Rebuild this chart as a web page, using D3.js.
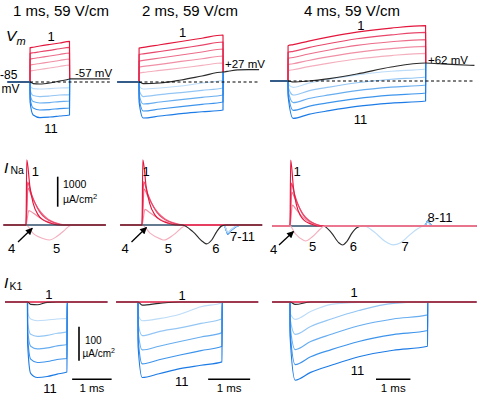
<!DOCTYPE html>
<html><head><meta charset="utf-8">
<script src="https://cdn.jsdelivr.net/npm/d3@7"></script>
<style>
body{margin:0;background:#fff}
svg{display:block}
text{font-family:"Liberation Sans",Arial,Helvetica,sans-serif;fill:#000}
</style>
</head><body>
<svg id="c" width="478" height="405"></svg>
<script>
// ================= DATA =================
const titles = ["1 ms, 59 V/cm", "2 ms, 59 V/cm", "4 ms, 59 V/cm"];
const traceIds = ["1","2","3","4","5","6","7","8","9","10","11"];
const timeWindow = [[-0.57, 2.02], [-0.52, 2.86], [-0.52, 5.42]];   // ms
const shockDuration = [1, 2, 4];                                     // ms
const restVm = -85;                                                  // mV
const postVmLabels = ["-57 mV", "+27 mV", "+62 mV"];

// ---- Vm (mV) during the shock, per trace 1..11 ----
const vmTimes1 = [0.002, 0.08, 0.25, 0.5, 0.75, 1.0];
const vmTraces1 = [
  [224, 228, 239, 253, 266, 280],
  [173, 178, 187, 200, 214, 226],
  [122, 127, 136, 149, 163, 176],
  [68, 73, 82, 95, 109, 122],
  [14, 19, 28, 41, 55, 68],
  [-85, -99, -103, -94, -76, -58],
  [-121, -144, -148, -144, -139, -135],
  [-157, -207, -216, -211, -202, -198],
  [-193, -261, -274, -270, -261, -256],
  [-229, -319, -337, -333, -324, -319],
  [-265, -382, -405, -400, -391, -382]];
const vmAfter1 = [[1.003, -57], [1.3, -57], [2.02, -57]];

const vmTimes2 = [0.002, 0.1, 0.5, 1.0, 1.5, 2.0];
const vmTraces2 = [
  [221, 226, 250, 280, 309, 338],
  [163, 168, 190, 218, 247, 275],
  [104, 109, 131, 158, 185, 212],
  [50, 55, 74, 100, 124, 149],
  [-4, 1, 19, 41, 64, 86],
  [-85, -99, -94, -67, -31, 5],
  [-121, -148, -139, -121, -94, -67],
  [-157, -216, -198, -180, -160, -139],
  [-193, -283, -265, -244, -223, -202],
  [-229, -346, -328, -306, -286, -265],
  [-265, -409, -391, -369, -353, -337]];
const vmAfter2 = [[2.003, 5], [2.15, 14], [2.35, 24], [2.6, 27], [2.86, 27]];

const vmTimes3 = [0.002, 0.15, 0.6, 1.2, 2, 3, 4];
const vmTraces3 = [
  [233, 242, 274, 312, 355, 391, 413],
  [173, 182, 215, 252, 295, 330, 352],
  [119, 127, 158, 194, 235, 268, 288],
  [62, 70, 100, 134, 173, 206, 226],
  [8, 16, 44, 76, 113, 144, 163],
  [-85, -94, -85, -63, -22, 41, 77],
  [-112, -142, -104, -69, -30, 3, 23],
  [-139, -211, -174, -140, -101, -69, -49],
  [-166, -280, -243, -210, -172, -140, -121],
  [-193, -349, -313, -280, -243, -212, -193],
  [-220, -421, -385, -352, -314, -284, -265]];
const vmAfter3 = [[4.003, 77], [4.4, 70], [4.9, 62], [5.42, 55]];

// ---- INa (uA/cm2), [t ms, value] samples where it departs from 0 ----
const inaTraces1 = [
  [[0,0],[0.02,2170],[0.1,1270],[0.18,730],[0.31,330],[0.43,170],[0.6,70],[0.8,0]],
  [[0,0],[0.04,1430],[0.12,1100],[0.22,760],[0.35,430],[0.5,220],[0.7,80],[0.95,0]],
  [[0,0],[0.05,1230],[0.13,1000],[0.24,700],[0.38,420],[0.55,200],[0.75,70],[1.0,0]],
  [[0,0],[0.07,480],[0.18,400],[0.32,270],[0.5,140],[0.7,50],[0.9,0]],
  [[0,0],[0.18,-280],[0.45,-460],[0.6,-500],[0.77,-390],[0.98,-170],[1.1,-30],[1.2,0]],
  [], [], [], [], [], []];
const inaTraces2 = [
  [[0,0],[0.02,2170],[0.1,1270],[0.18,730],[0.31,330],[0.43,170],[0.6,70],[0.8,0]],
  [[0,0],[0.04,1450],[0.12,1100],[0.22,760],[0.35,430],[0.5,220],[0.7,80],[0.95,0]],
  [[0,0],[0.05,1200],[0.13,980],[0.24,690],[0.38,410],[0.55,200],[0.75,70],[1.0,0]],
  [[0,0],[0.07,520],[0.18,420],[0.32,280],[0.5,140],[0.7,50],[0.9,0]],
  [[0,0],[0.19,-270],[0.45,-470],[0.52,-500],[0.75,-330],[0.98,-60],[1.08,0]],
  [[0.95,0],[1.21,-220],[1.45,-560],[1.54,-630],[1.66,-500],[1.78,-220],[1.9,-30],[2.0,0]],
  [[1.95,0],[2.0,-120],[2.04,-250],[2.12,-150],[2.25,-30],[2.4,0]],
  [[1.95,0],[2.0,-130],[2.04,-265],[2.12,-160],[2.25,-35],[2.4,0]],
  [[1.95,0],[2.0,-140],[2.04,-280],[2.12,-170],[2.25,-40],[2.4,0]],
  [[1.95,0],[2.0,-150],[2.04,-295],[2.12,-180],[2.25,-45],[2.4,0]],
  [[1.95,0],[2.0,-160],[2.04,-310],[2.12,-190],[2.25,-50],[2.4,0]]];
const inaTraces3 = [
  [[0,0],[0.02,2200],[0.1,1280],[0.18,740],[0.31,330],[0.43,170],[0.6,70],[0.8,0]],
  [[0,0],[0.04,1430],[0.12,1100],[0.22,760],[0.35,430],[0.5,220],[0.7,80],[0.95,0]],
  [[0,0],[0.05,1130],[0.13,950],[0.24,680],[0.38,400],[0.55,190],[0.75,60],[1.0,0]],
  [[0,0],[0.07,700],[0.16,580],[0.3,380],[0.48,190],[0.68,60],[0.9,0]],
  [[0,0],[0.15,-250],[0.38,-470],[0.45,-500],[0.65,-360],[0.88,-100],[1.0,0]],
  [[0.97,0],[1.2,-220],[1.42,-560],[1.53,-633],[1.65,-520],[1.8,-240],[1.94,-60],[2.1,0]],
  [[2.15,0],[2.45,-200],[2.75,-500],[3.0,-630],[3.2,-570],[3.45,-330],[3.7,-100],[3.9,0]],
  [[3.9,0],[3.96,70],[4.0,150],[4.06,80],[4.14,0]],
  [[3.9,0],[3.96,75],[4.0,160],[4.06,85],[4.14,0]],
  [[3.9,0],[3.96,80],[4.0,165],[4.06,90],[4.14,0]],
  [[3.9,0],[3.96,85],[4.0,170],[4.06,95],[4.14,0]]];

// ---- IK1 (uA/cm2) during the shock, on the Vm time grids ----
const ik1Traces1 = [
  [0,0,0,0,0,0],[0,0,0,0,0,0],[0,0,0,0,0,0],[0,0,0,0,0,0],[0,0,0,0,0,0],
  [0, -7, -8, -1, 0, 0],
  [-30, -50, -55, -53, -50, -48],
  [-60, -95, -101, -98, -92, -88],
  [-80, -130, -138, -135, -129, -125],
  [-100, -168, -178, -175, -169, -166],
  [-120, -210, -222, -219, -212, -206]];
const ik1Traces2 = [
  [0,0,0,0,0,0],[0,0,0,0,0,0],[0,0,0,0,0,0],[0,0,0,0,0,0],[0,0,0,0,0,0],
  [0, -9, -4, 0, 0, 0],
  [-38, -55, -49, -36, -14, -2],
  [-61, -99, -87, -76, -63, -49],
  [-84, -141, -130, -116, -103, -90],
  [-107, -182, -170, -156, -143, -130],
  [-130, -222, -211, -196, -186, -176]];
const ik1Traces3 = [
  [0,0,0,0,0,0,0],[0,0,0,0,0,0,0],[0,0,0,0,0,0,0],[0,0,0,0,0,0,0],[0,0,0,0,0,0,0],
  [0, -7, 0, 0, 0, 0, 0],
  [-32, -51, -28, -7, -1, 0, 0],
  [-49, -95, -72, -50, -25, -4, 0],
  [-67, -140, -116, -95, -70, -50, -38],
  [-84, -184, -161, -140, -116, -96, -84],
  [-101, -230, -207, -186, -161, -142, -130]];

const inaScaleValue = 1000, ik1ScaleValue = 100, timeScaleValue = 1;

// ================= LAYOUT / STYLE =================
const vmTimes = [vmTimes1, vmTimes2, vmTimes3];
const vmTraces = [vmTraces1, vmTraces2, vmTraces3];
const vmAfter = [vmAfter1, vmAfter2, vmAfter3];
const inaTraces = [inaTraces1, inaTraces2, inaTraces3];
const ik1Traces = [ik1Traces1, ik1Traces2, ik1Traces3];

const colors = ["#e3163c","#e8466a","#ec6d8a","#f090a6","#f4afbe",
                "#2b2b2b",
                "#bcdcf8","#94c6f4","#67adf0","#3d94ec","#1c7be6"];
const K = [39.5, 42, 34.4];               // px per ms
const ORIGIN = {vm:[30,139,288], ina:[26,142,290], ik1:[27.5,138,290]};
const BASE = {vm:[82,82,81], ina:[225,225,226], ik1:[302,302,302]};
const LW = 1.15;

const svg = d3.select("#c");
const xs = (row, c) => d3.scaleLinear().domain([0, 1]).range([ORIGIN[row][c], ORIGIN[row][c] + K[c]]);
const yVm = c => d3.scaleLinear().domain([restVm, restVm + 90]).range([BASE.vm[c], BASE.vm[c] - 10]);
const yNa = c => d3.scaleLinear().domain([0, 1000]).range([BASE.ina[c], BASE.ina[c] - 30]);
const yK1 = c => d3.scaleLinear().domain([0, -100]).range([BASE.ik1[c], BASE.ik1[c] + 34]);
const mkLine = (x, y, curve) => d3.line().x(d => x(d[0])).y(d => y(d[1])).curve(curve || d3.curveMonotoneX);

function drawPath(g, pts, line, color, opts) {
  opts = opts || {};
  g.append("path").attr("d", line(pts)).attr("fill", "none")
    .attr("stroke", color).attr("stroke-width", opts.w || LW)
    .attr("stroke-opacity", opts.op || 1)
    .attr("stroke-dasharray", opts.dash || null)
    .attr("stroke-linejoin", "round");
}

// ----- Vm row -----
const vmOrder = [4,3,2,1,0,6,7,8,9,10,5];
for (let c = 0; c < 3; c++) {
  const g = svg.append("g");
  const x = xs("vm", c), y = yVm(c), [t0, t1] = timeWindow[c];
  const ln = mkLine(x, y);
  vmOrder.forEach(i => {
    let pts = [[t0, restVm], [0, restVm]].concat(vmTimes[c].map((t, j) => [t, vmTraces[c][i][j]]));
    if (i === 5) pts = pts.concat(vmAfter[c]); else pts.push(vmAfter[c][0]);
    drawPath(g, pts, ln, colors[i]);
  });
  drawPath(g, [[0, restVm], [t1, restVm]], mkLine(x, y, d3.curveLinear), "#000", {w: 1, dash: "3,2.5"});
}

// ----- INa row -----
const inaOrder = [[10,9,8,7,6,4,3,2,1,0,5],[10,9,8,7,6,4,3,2,1,0,5],[10,9,8,7,6,5,3,2,1,0,4]];
for (let c = 0; c < 3; c++) {
  const g = svg.append("g");
  const x = xs("ina", c), y = yNa(c), [t0, t1] = timeWindow[c];
  const ln = mkLine(x, y);
  inaOrder[c].forEach(i => {
    const pts = [[t0, 0]].concat(inaTraces[c][i]).concat([[t1, 0]]);
    drawPath(g, pts, ln, colors[i]);
  });
}

// ----- IK1 row -----
const ik1Order = [6,7,8,9,10,4,3,2,1,5,0];
for (let c = 0; c < 3; c++) {
  const g = svg.append("g");
  const x = xs("ik1", c), y = yK1(c), [t0, t1] = timeWindow[c], D = shockDuration[c];
  const ln = mkLine(x, y);
  ik1Order.forEach(i => {
    const pts = [[t0, 0], [0, 0]].concat(vmTimes[c].map((t, j) => [t, ik1Traces[c][i][j]]))
      .concat([[D + 0.003, 0], [t1, 0]]);
    drawPath(g, pts, ln, colors[i], {op: i === 0 ? 0.55 : 1});
  });
}

// ----- text helpers -----
function txt(x, y, s, size, opts) {
  opts = opts || {};
  return svg.append("text").attr("x", x).attr("y", y).attr("font-size", size)
    .attr("text-anchor", opts.anchor || "start")
    .attr("font-style", opts.italic ? "italic" : null).text(s);
}

// titles
[61, 190, 352].forEach((cx, c) => txt(cx, 15.5, titles[c], 15, {anchor: "middle"}));

// row labels
txt(6, 40.5, "V", 15.5, {italic: true}); txt(16.5, 44.5, "m", 11, {italic: true});
txt(4, 173.3, "I", 15.5, {italic: true}); txt(10.5, 173.5, "Na", 10.5);
txt(4, 288.3, "I", 15.5, {italic: true}); txt(9.5, 290.3, "K1", 10.5);

// Vm annotations
txt(0, 79, "-85", 12); txt(1.5, 93.3, "mV", 12);
txt(75, 76.5, postVmLabels[0], 11.5);
txt(225, 68.3, postVmLabels[1], 11.5);
txt(428, 64, postVmLabels[2], 11.5);

// trace number labels [x center, y center, text]
const nums = [
  [51, 36, traceIds[0]], [51, 128.7, traceIds[10]],
  [182.5, 32, traceIds[0]],
  [360.8, 25, traceIds[0]], [360.5, 119.5, traceIds[10]],
  [35.3, 171.7, traceIds[0]], [11.7, 248.3, traceIds[3]], [56.7, 248.3, traceIds[4]],
  [146, 171.7, traceIds[0]], [125, 248.7, traceIds[3]], [168.3, 248.3, traceIds[4]], [215.8, 248.3, traceIds[5]],
  [242.5, 236.7, traceIds[6] + "-" + traceIds[10]],
  [297, 171.7, traceIds[0]], [273.5, 249.5, traceIds[3]], [312.7, 246.7, traceIds[4]], [353.3, 246.7, traceIds[5]],
  [405, 246.7, traceIds[6]], [440, 217.5, traceIds[7] + "-" + traceIds[10]],
  [48.8, 294, traceIds[0]], [50, 388.7, traceIds[10]],
  [182, 295, traceIds[0]], [181.7, 381, traceIds[10]],
  [354, 292.5, traceIds[0]], [357.5, 370, traceIds[10]]];
nums.forEach(d => txt(d[0], d[1] + 4.6, d[2], 13, {anchor: "middle"}));

// arrows pointing at trace 4
const defs = svg.append("defs");
defs.append("marker").attr("id", "ah").attr("viewBox", "0 0 10 10").attr("refX", 9).attr("refY", 5)
  .attr("markerWidth", 8).attr("markerHeight", 7).attr("markerUnits", "userSpaceOnUse").attr("orient", "auto")
  .append("path").attr("d", "M0,0 L10,5 L0,10 z").attr("fill", "#000");
[[18, 242, 32.3, 228.3], [131.5, 242, 146.5, 227.5], [279, 245, 293.5, 231.5]].forEach(a =>
  svg.append("line").attr("x1", a[0]).attr("y1", a[1]).attr("x2", a[2]).attr("y2", a[3])
    .attr("stroke", "#000").attr("stroke-width", 1.3).attr("marker-end", "url(#ah)"));

// scale bars
const bar = (x1, y1, x2, y2) => svg.append("line").attr("x1", x1).attr("y1", y1).attr("x2", x2).attr("y2", y2)
  .attr("stroke", "#000").attr("stroke-width", 1.6);
{
  const y = yNa(0), len = y(0) - y(inaScaleValue), top = 176.7;
  bar(57.7, top, 57.7, top + len);
  txt(63, 188, String(inaScaleValue), 10.5);
  const t = txt(63, 202.5, "\u00b5A/cm", 10.5); t.append("tspan").attr("dy", -4).attr("font-size", 7.5).text("2");
}
{
  const y = yK1(0), len = y(-ik1ScaleValue) - y(0), top = 326.7;
  bar(79, top, 79, top + len);
  txt(85, 343.5, String(ik1ScaleValue), 10);
  const t = txt(82.5, 356.5, "\u00b5A/cm", 10); t.append("tspan").attr("dy", -4).attr("font-size", 7).text("2");
}
const tBarStart = [1.13, 1.67, 2.5];
for (let c = 0; c < 3; c++) {
  const x = xs("ik1", c);
  bar(x(tBarStart[c]), 379.3, x(tBarStart[c] + timeScaleValue), 379.3);
  txt((x(tBarStart[c]) + x(tBarStart[c] + timeScaleValue)) / 2, 392, timeScaleValue + " ms", 11.5, {anchor: "middle"});
}
</script>
</body></html>
